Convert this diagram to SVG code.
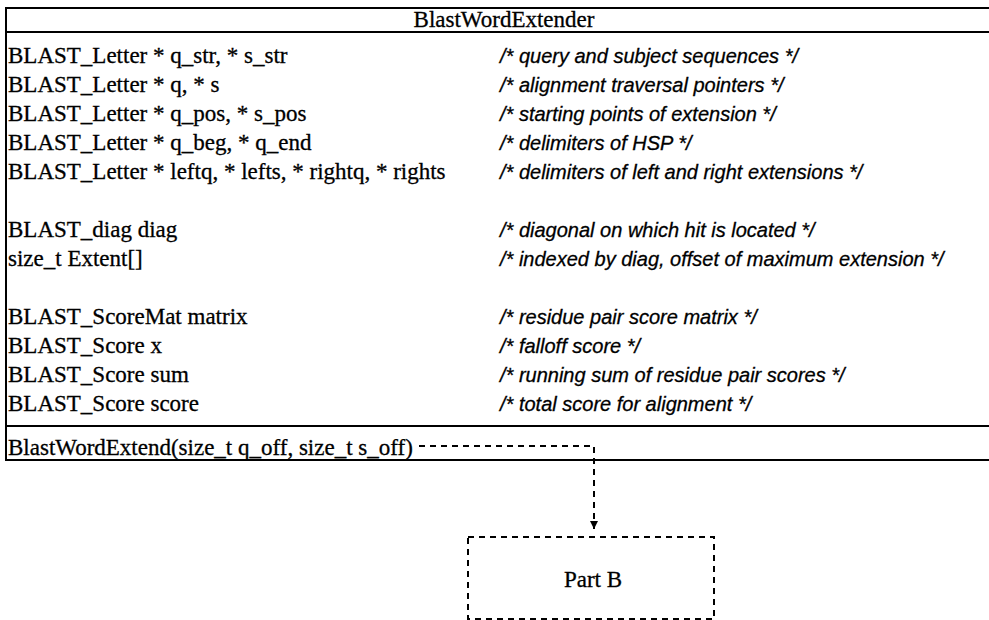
<svg xmlns="http://www.w3.org/2000/svg" width="989" height="620" viewBox="0 0 989 620">
<defs>
<style>
.ln{stroke:#000;stroke-width:2;fill:none}
.dash{stroke:#000;stroke-width:2;fill:none;stroke-dasharray:6 5}
.code{font-family:"Liberation Serif","Times New Roman",serif;font-size:23px;fill:#000;stroke:#000;stroke-width:0.3}
.cmt{font-family:"Liberation Sans",Arial,sans-serif;font-size:20px;font-style:italic;fill:#000;stroke:#000;stroke-width:0.3}
</style>
<marker id="arr" markerWidth="10" markerHeight="10" refX="8" refY="4" orient="auto" markerUnits="userSpaceOnUse">
<path d="M0,0 L8,4 L0,8 Z" fill="#000"/>
</marker>
</defs>
<rect width="989" height="620" fill="#fff"/>
<g id="BlastWordExtender">
<path class="ln" d="M1000,8 H6 V460 H1000"/>
<line class="ln" x1="6" y1="32" x2="1000" y2="32"/>
<line class="ln" x1="6" y1="426" x2="1000" y2="426"/>
<text class="code" x="504" y="27" text-anchor="middle" font-size="22">BlastWordExtender</text>
<text class="code" x="8" y="63">BLAST_Letter * q_str, * s_str</text>
<text class="code" x="8" y="92">BLAST_Letter * q, * s</text>
<text class="code" x="8" y="121">BLAST_Letter * q_pos, * s_pos</text>
<text class="code" x="8" y="150">BLAST_Letter * q_beg, * q_end</text>
<text class="code" x="8" y="179">BLAST_Letter * leftq, * lefts, * rightq, * rights</text>
<text class="code" x="8" y="237">BLAST_diag diag</text>
<text class="code" x="8" y="266">size_t Extent[]</text>
<text class="code" x="8" y="324">BLAST_ScoreMat matrix</text>
<text class="code" x="8" y="353">BLAST_Score x</text>
<text class="code" x="8" y="382">BLAST_Score sum</text>
<text class="code" x="8" y="411">BLAST_Score score</text>
<text class="cmt" x="500" y="63">/* query and subject sequences */</text>
<text class="cmt" x="500" y="92">/* alignment traversal pointers */</text>
<text class="cmt" x="500" y="121">/* starting points of extension */</text>
<text class="cmt" x="500" y="150">/* delimiters of HSP */</text>
<text class="cmt" x="500" y="179">/* delimiters of left and right extensions */</text>
<text class="cmt" x="500" y="237">/* diagonal on which hit is located */</text>
<text class="cmt" x="500" y="266">/* indexed by diag, offset of maximum extension */</text>
<text class="cmt" x="500" y="324">/* residue pair score matrix */</text>
<text class="cmt" x="500" y="353">/* falloff score */</text>
<text class="cmt" x="500" y="382">/* running sum of residue pair scores */</text>
<text class="cmt" x="500" y="411">/* total score for alignment */</text>
<text class="code" x="8" y="455">BlastWordExtend(size_t q_off, size_t s_off)</text>
</g>
<g id="PartB">
<rect class="dash" x="468" y="537" width="246" height="82"/>
<text class="code" x="593" y="587" text-anchor="middle" font-size="22">Part B</text>
</g>
<g id="connectors">
<path class="dash" d="M419,446 H594 V529" marker-end="url(#arr)"/>
</g>
</svg>
